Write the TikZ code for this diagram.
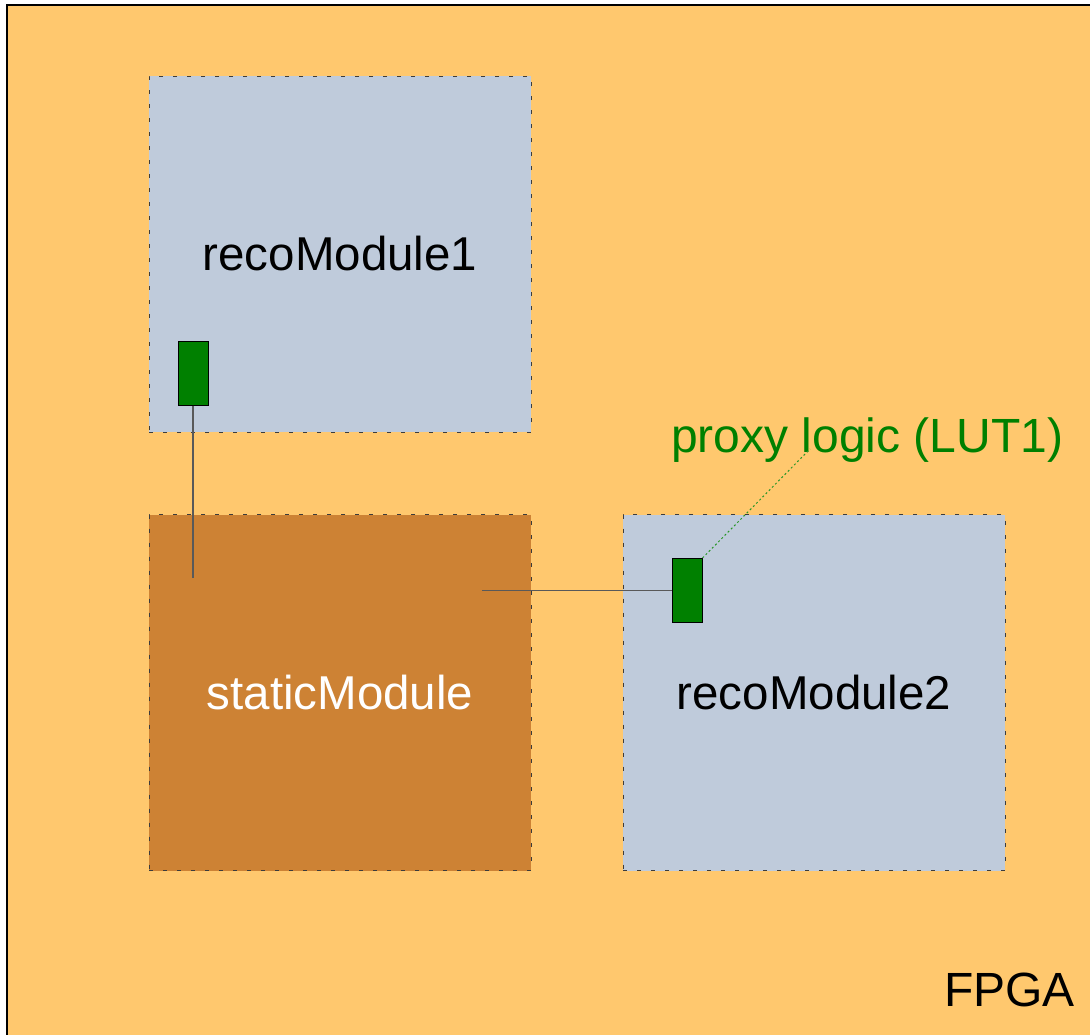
\documentclass[tikz,border=0pt]{standalone}
\usepackage{fontspec}
\setmainfont{Liberation Sans}
\definecolor{fpgaor}{RGB}{255,200,110}
\definecolor{recoblue}{RGB}{191,203,219}
\definecolor{statbrown}{RGB}{205,130,52}
\definecolor{proxgreen}{RGB}{0,128,0}
\definecolor{calloutgreen}{RGB}{40,150,40}
\definecolor{dashgray}{RGB}{60,60,60}
\begin{document}
\begin{tikzpicture}[x=1pt,y=-1pt,
  module/.style={draw=dashgray, line width=1pt, dash pattern=on 4pt off 10pt,
    minimum width=382pt, minimum height=356pt, inner sep=0pt, anchor=center,
    font=\fontsize{47.5}{56}\selectfont},
  reco/.style={module, fill=recoblue, text=black},
  statm/.style={module, fill=statbrown, text=white},
  port/.style={draw=black, line width=1pt, fill=proxgreen, minimum width=30pt,
    minimum height=64pt, inner sep=0pt},
  wire/.style={draw=black!65, line width=1.2pt},
  callout/.style={draw=calloutgreen, line width=1pt, dash pattern=on 2pt off 2.5pt},
  bigtext/.style={font=\fontsize{48}{56}\selectfont, inner sep=0pt}]
\useasboundingbox (0,0) rectangle (1090,1034);
\fill[white] (0,0) rectangle (1090,1034);
\draw[fill=fpgaor, line width=1.5pt] (7,5) rectangle (1100,1045);
\node[reco] (reco1) at (340,254) {recoModule1};
\node[statm] (static) at (340,692.5) {staticModule};
\node[reco] (reco2) at (814,692.5) {recoModule2};
\node[port] (p1) at (193,373) {};
\node[port] (p2) at (687,590.5) {};
\coordinate (w1end) at (193,578);
\coordinate (w2start) at (482,590.5);
\draw[wire] (p1.south) -- (w1end);
\draw[wire] (w2start) -- (p2.west);
\node[bigtext, text=proxgreen, anchor=base west] (proxy) at (671,452) {proxy logic (LUT1)};
\coordinate (calloutend) at (810,449);
\draw[callout] (p2.north east) -- (calloutend);
\node[bigtext, anchor=base east] (fpga) at (1075,1006) {FPGA};
\end{tikzpicture}
\end{document}
